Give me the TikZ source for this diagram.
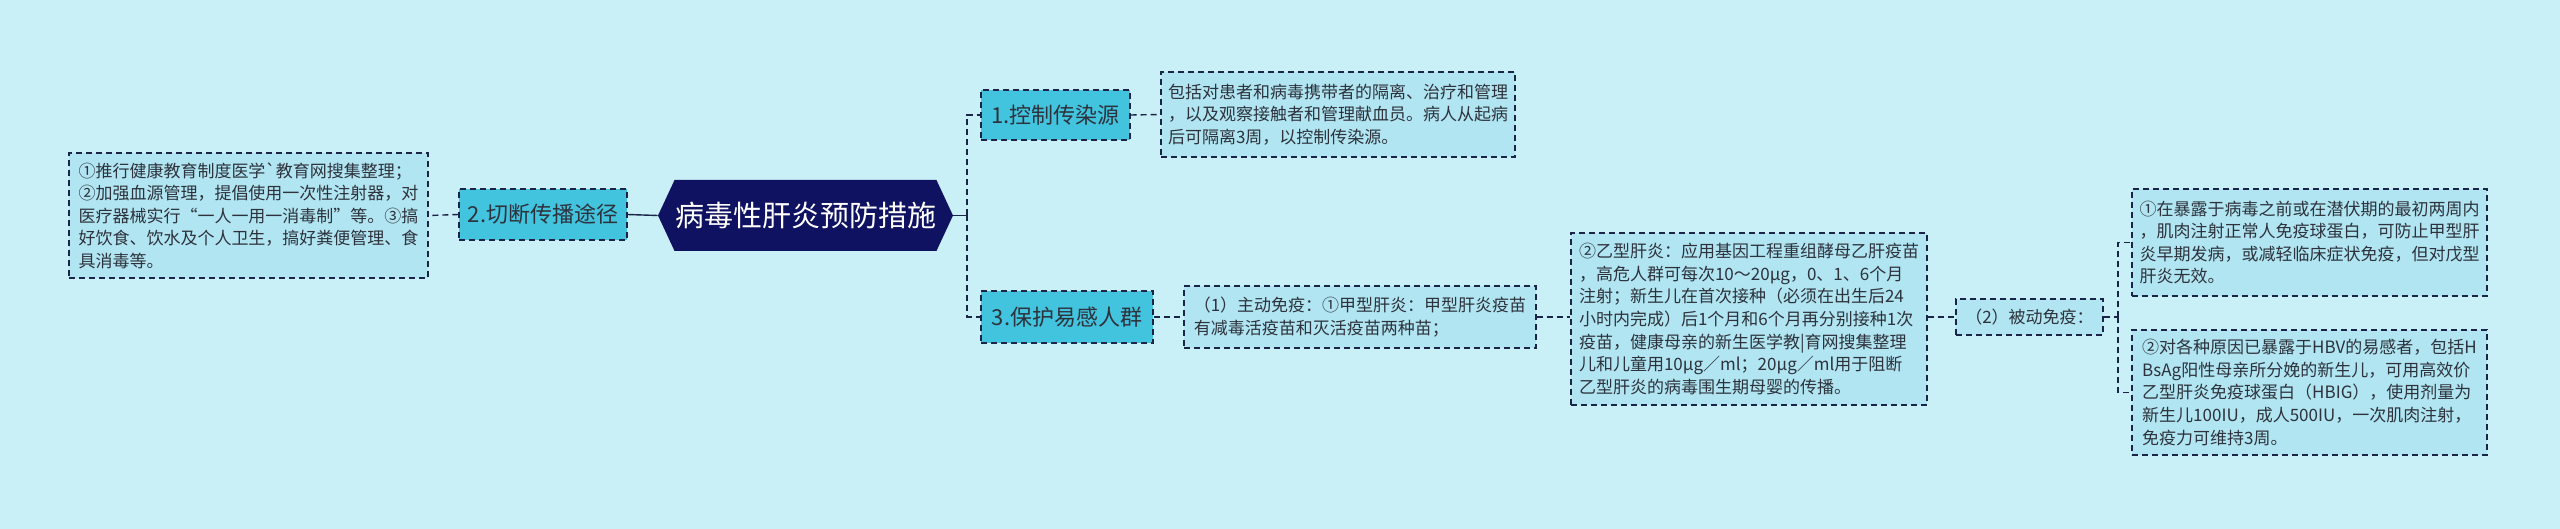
\documentclass[tikz,border=0pt]{standalone}
\usepackage{fontspec}
\setmainfont{Noto Sans CJK SC}
\usetikzlibrary{shapes.symbols}

\definecolor{bgcyan}{RGB}{201,239,247}
\definecolor{tipfill}{RGB}{176,229,241}
\definecolor{topicfill}{RGB}{66,195,222}
\definecolor{rootfill}{RGB}{14,18,96}
\definecolor{edgecol}{RGB}{26,36,70}
\definecolor{txt}{RGB}{45,50,60}

\begin{document}
\begin{tikzpicture}[
        x=0.5pt, y=-0.5pt,
        root/.style={signal, signal to=east and west, signal pointer angle=130,
            fill=rootfill, text=white, inner sep=0pt,
            minimum width=147.5pt, minimum height=35.5pt,
            font=\fontsize{14.5}{16}\selectfont},
        topic/.style={draw=edgecol, dashed, dash pattern=on 3pt off 2pt, line width=0.7pt,
            fill=topicfill, text=txt, inner sep=0pt,
            font=\fontsize{11}{13}\selectfont},
        tip/.style={draw=edgecol, dashed, dash pattern=on 3pt off 2pt, line width=0.7pt,
            fill=tipfill, text=txt, align=left, inner sep=0pt,
            font=\fontsize{8.5}{11.3}\selectfont},
        link/.style={draw=edgecol, line width=0.7pt, dash pattern=on 3pt off 2pt},
        stem/.style={draw=edgecol, line width=0.7pt}
    ]

    % --- Background ---
    \fill[bgcyan] (0,0) rectangle (2560,529);
    \useasboundingbox (0,0) rectangle (2560,529);

    % --- Root ---
    \node[root] (root) at (805.5,215.5) {病毒性肝炎预防措施};

    % --- Left branch ---
    \node[topic, minimum width=84pt, minimum height=25.5pt] (cut) at (543,214.5) {2.切断传播途径};
    \node[tip, minimum width=179.5pt, minimum height=62.5pt] (cutnote) at (248.5,215.5)
    {①推行健康教育制度医学\textasciigrave 教育网搜集整理；\\
     ②加强血源管理，提倡使用一次性注射器，对\\
     医疗器械实行“一人一用一消毒制”等。③搞\\
     好饮食、饮水及个人卫生，搞好粪便管理、食\\
     具消毒等。};

    % --- Right branches ---
    \node[topic, minimum width=74.5pt, minimum height=25pt] (ctrl) at (1055.5,115) {1.控制传染源};
    \node[tip, minimum width=177pt, minimum height=42.5pt] (ctrlnote) at (1338,114.5)
    {包括对患者和病毒携带者的隔离、治疗和管理\\
     ，以及观察接触者和管理献血员。病人从起病\\
     后可隔离3周，以控制传染源。};

    \node[topic, minimum width=86pt, minimum height=26pt] (prot) at (1067,317) {3.保护易感人群};
    \node[tip, minimum width=176pt, minimum height=31pt] (active) at (1360,317)
    {（1）主动免疫：①甲型肝炎：甲型肝炎疫苗\\
     有减毒活疫苗和灭活疫苗两种苗；};
    \node[tip, minimum width=178pt, minimum height=86pt] (hepb) at (1749,319)
    {②乙型肝炎：应用基因工程重组酵母乙肝疫苗\\
     ，高危人群可每次10～20μg，0、1、6个月\\
     注射；新生儿在首次接种（必须在出生后24\\
     小时内完成）后1个月和6个月再分别接种1次\\
     疫苗，健康母亲的新生医学教|育网搜集整理\\
     儿和儿童用10μg／ml；20μg／ml用于阻断\\
     乙型肝炎的病毒围生期母婴的传播。};
    \node[tip, minimum width=73.5pt, minimum height=18pt] (passive) at (2029.5,317) {（2）被动免疫：};
    \node[tip, minimum width=177.5pt, minimum height=53.5pt] (pasa) at (2309.5,242.5)
    {①在暴露于病毒之前或在潜伏期的最初两周内\\
     ，肌肉注射正常人免疫球蛋白，可防止甲型肝\\
     炎早期发病，或减轻临床症状免疫，但对戊型\\
     肝炎无效。};
    \node[tip, minimum width=177.5pt, minimum height=62.5pt] (pasb) at (2309.5,392.5)
    {②对各种原因已暴露于HBV的易感者，包括H\\
     BsAg阳性母亲所分娩的新生儿，可用高效价\\
     乙型肝炎免疫球蛋白（HBIG），使用剂量为\\
     新生儿100IU，成人500IU，一次肌肉注射，\\
     免疫力可维持3周。};

    % --- Connectors ---
    \coordinate (fork) at (967,215.5);
    \coordinate (pfork) at (2118,317);
    \draw[stem] (root.west) -- (cut.east);
    \draw[link] (cut.west) -- (cutnote.east);
    \draw[stem] (root.east) -- (fork);
    \draw[link] (fork) |- (ctrl.west);
    \draw[link] (fork) |- (prot.west);
    \draw[link] (ctrl.east) -- (ctrlnote.west);
    \draw[link] (prot.east) -- (active.west);
    \draw[link] (active.east) -- (active.east -| hepb.west);
    \draw[link] (hepb.east |- passive.west) -- (passive.west);
    \draw[link] (passive.east) -- (pfork);
    \draw[link] (pfork) |- (pasa.west);
    \draw[link] (pfork) |- (pasb.west);

    \end{tikzpicture}
\end{document}
